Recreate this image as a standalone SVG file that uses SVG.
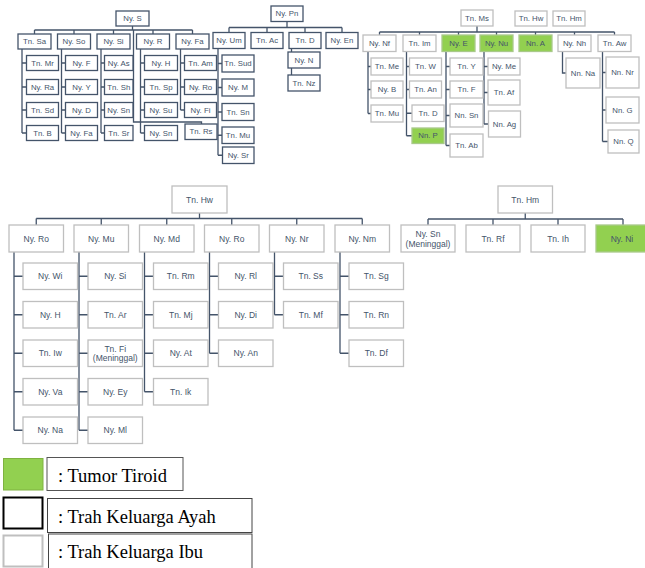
<svg xmlns="http://www.w3.org/2000/svg" width="645" height="568" viewBox="0 0 645 568">
<style>
.d{fill:#fff;stroke:#44546A;stroke-width:1.3}
.l{fill:#fff;stroke:#BFBFBF;stroke-width:1.3}
.gl{fill:#92D050;stroke:#A9C98A;stroke-width:1.3}
text{font-family:"Liberation Sans",Arial,sans-serif;fill:#44546A;text-anchor:middle;dominant-baseline:central}
.s{font-size:7.8px}
.b{font-size:8.5px}
.c{fill:none;stroke:#44546A;stroke-width:1.3}
.lg{font-family:"Liberation Serif","Times New Roman",serif;font-size:18.5px;fill:#000;text-anchor:start;dominant-baseline:auto}
</style>
<g id="connectors" class="c">
<path d="M132.5 26V30M34.5 30H192.5M34.5 30V34M74 30V34M113.5 30V34M153 30V34M192.5 30V34"/>
<path d="M133.5 30V122H201.5V124"/>
<path d="M22 49V133M22 63H26.5M22 87H26.5M22 110H26.5M22 133H26.5"/>
<path d="M61.5 49V133M61.5 63H65.5M61.5 87H65.5M61.5 110H65.5M61.5 133H65.5"/>
<path d="M101 49V133M101 63H104.5M101 87H104.5M101 110H104.5M101 133H104.5"/>
<path d="M140.5 49V133M140.5 63H144.5M140.5 87H144.5M140.5 110H144.5M140.5 133H144.5"/>
<path d="M180.5 49V110M180.5 63H184.5M180.5 87H184.5M180.5 110H184.5"/>
<path d="M287 21.5V27.5M229 27.5H342M229 27.5V32.5M267 27.5V32.5M305 27.5V32.5M342 27.5V32.5"/>
<path d="M218 48.5V155.25M218 63.5H222M218 87.5H222M218 112H222M218 135.25H222M218 155.25H222"/>
<path d="M291.5 48.5V75"/>
<path d="M477 26V32M379.5 32H614.5M379.5 32V35M419.5 32V35M458.5 32V35M496.5 32V35M535.5 32V35M574.5 32V35M614.5 32V35"/>
<path d="M368 51.5V113.5M368 66.5H371M368 89.5H371M368 113.5H371"/>
<path d="M406.5 51.5V135.75M406.5 66.5H409.5M406.5 89.5H409.5M406.5 113.25H412M406.5 135.75H412"/>
<path d="M446 51.5V145.5M446 66.5H450M446 89.5H450M446 115.5H450M446 145.5H450"/>
<path d="M484 51.5V124M484 66.5H488M484 92.5H488M484 124H488"/>
<path d="M562.5 51.5V73H566"/>
<path d="M602.5 51.5V141.5M602.5 72.5H606M602.5 110H606M602.5 141.5H608"/>
<path d="M199.5 213V218.5M36.25 218.5H362.25M36.25 218.5V225M101.25 218.5V225M166.75 218.5V225M231.75 218.5V225M296.75 218.5V225M362.25 218.5V225"/>
<path d="M14 252V430.25M14 276.25H23M14 314.75H23M14 353.25H23M14 391.75H23M14 430.25H23"/>
<path d="M79 252V430.25M79 276.25H88M79 314.75H88M79 353.25H88M79 391.75H88M79 430.25H88"/>
<path d="M144.5 252V391.75M144.5 276.25H153.5M144.5 314.75H153.5M144.5 353.25H153.5M144.5 391.75H153.5"/>
<path d="M209.5 252V353.25M209.5 276.25H218.5M209.5 314.75H218.5M209.5 353.25H218.5"/>
<path d="M274.5 252V314.75M274.5 276.25H283.5M274.5 314.75H283.5"/>
<path d="M340 252V353.25M340 276.25H349M340 314.75H349M340 353.25H349"/>
<path d="M525.25 213V219M428 219H623M428 219V225M493 219V225M558 219V225M623 219V225"/>
</g>

<g id="nyS"><rect class="d" x="116" y="11" width="33" height="15"/><text class="s" x="132.5" y="18.5">Ny. S</text></g>
<g id="tnSa"><rect class="d" x="18" y="34" width="33" height="15"/><text class="s" x="34.5" y="41.5">Tn. Sa</text></g>
<g id="nySo"><rect class="d" x="57.5" y="34" width="33" height="15"/><text class="s" x="74" y="41.5">Ny. So</text></g>
<g id="nySi"><rect class="d" x="97" y="34" width="33" height="15"/><text class="s" x="113.5" y="41.5">Ny. Si</text></g>
<g id="nyR"><rect class="d" x="136.5" y="34" width="33" height="15"/><text class="s" x="153" y="41.5">Ny. R</text></g>
<g id="nyFa"><rect class="d" x="176" y="34" width="33" height="15"/><text class="s" x="192.5" y="41.5">Ny. Fa</text></g>

<g id="tnMr"><rect class="d" x="26.5" y="55.5" width="32" height="15"/><text class="s" x="42.5" y="63">Tn. Mr</text></g>
<g id="nyRa"><rect class="d" x="26.5" y="79.5" width="32" height="15"/><text class="s" x="42.5" y="87">Ny. Ra</text></g>
<g id="tnSd"><rect class="d" x="26.5" y="102.5" width="32" height="15"/><text class="s" x="42.5" y="110">Tn. Sd</text></g>
<g id="tnB"><rect class="d" x="26.5" y="125.5" width="32" height="15"/><text class="s" x="42.5" y="133">Tn. B</text></g>

<g id="nyF"><rect class="d" x="65.5" y="55.5" width="32" height="15"/><text class="s" x="81.5" y="63">Ny. F</text></g>
<g id="nyY"><rect class="d" x="65.5" y="79.5" width="32" height="15"/><text class="s" x="81.5" y="87">Ny. Y</text></g>
<g id="nyD"><rect class="d" x="65.5" y="102.5" width="32" height="15"/><text class="s" x="81.5" y="110">Ny. D</text></g>
<g id="nyFa2"><rect class="d" x="65.5" y="125.5" width="32" height="15"/><text class="s" x="81.5" y="133">Ny. Fa</text></g>

<g id="nyAs"><rect class="d" x="104.5" y="55.5" width="28.5" height="15"/><text class="s" x="118.75" y="63">Ny. As</text></g>
<g id="tnSh"><rect class="d" x="104.5" y="79.5" width="28.5" height="15"/><text class="s" x="118.75" y="87">Tn. Sh</text></g>
<g id="nySn1"><rect class="d" x="104.5" y="102.5" width="28.5" height="15"/><text class="s" x="118.75" y="110">Ny. Sn</text></g>
<g id="tnSr"><rect class="d" x="104.5" y="125.5" width="28.5" height="15"/><text class="s" x="118.75" y="133">Tn. Sr</text></g>

<g id="nyH"><rect class="d" x="144.5" y="55.5" width="33" height="15"/><text class="s" x="161" y="63">Ny. H</text></g>
<g id="tnSp"><rect class="d" x="144.5" y="79.5" width="33" height="15"/><text class="s" x="161" y="87">Tn. Sp</text></g>
<g id="nySu"><rect class="d" x="144.5" y="102.5" width="33" height="15"/><text class="s" x="161" y="110">Ny. Su</text></g>
<g id="nySn2"><rect class="d" x="144.5" y="125.5" width="33" height="15"/><text class="s" x="161" y="133">Ny. Sn</text></g>

<g id="tnAm"><rect class="d" x="184.5" y="55.5" width="32" height="15"/><text class="s" x="200.5" y="63">Tn. Am</text></g>
<g id="nyRo1"><rect class="d" x="184.5" y="79.5" width="32" height="15"/><text class="s" x="200.5" y="87">Ny. Ro</text></g>
<g id="nyFi"><rect class="d" x="184.5" y="102.5" width="32" height="15"/><text class="s" x="200.5" y="110">Ny. Fi</text></g>
<g id="tnRs"><rect class="d" x="185" y="124" width="32" height="15.5"/><text class="s" x="201" y="131.75">Tn. Rs</text></g>

<g id="nyPn"><rect class="d" x="271" y="6" width="32" height="15.5"/><text class="s" x="287" y="13.75">Ny. Pn</text></g>
<g id="nyUm"><rect class="d" x="213" y="32.5" width="32" height="16"/><text class="s" x="229" y="40.5">Ny. Um</text></g>
<g id="tnAc"><rect class="d" x="251" y="32.5" width="32" height="16"/><text class="s" x="267" y="40.5">Tn. Ac</text></g>
<g id="tnD1"><rect class="d" x="289" y="32.5" width="32" height="16"/><text class="s" x="305" y="40.5">Tn. D</text></g>
<g id="nyEn"><rect class="d" x="326" y="32.5" width="32" height="16"/><text class="s" x="342" y="40.5">Ny. En</text></g>
<g id="tnSud"><rect class="d" x="222" y="55" width="32" height="17"/><text class="s" x="238" y="63.5">Tn. Sud</text></g>
<g id="nyM"><rect class="d" x="222" y="79" width="32" height="17"/><text class="s" x="238" y="87.5">Ny. M</text></g>
<g id="tnSn1"><rect class="d" x="222" y="103.5" width="32" height="17"/><text class="s" x="238" y="112">Tn. Sn</text></g>
<g id="tnMu1"><rect class="d" x="222" y="127" width="32" height="16.5"/><text class="s" x="238" y="135.25">Tn. Mu</text></g>
<g id="nySr"><rect class="d" x="222.5" y="147" width="31.5" height="16.5"/><text class="s" x="238.25" y="155.25">Ny. Sr</text></g>
<g id="nyN"><rect class="d" x="288" y="52" width="32" height="16"/><text class="s" x="304" y="60">Ny. N</text></g>
<g id="tnNz"><rect class="d" x="288" y="75" width="32" height="16"/><text class="s" x="304" y="83">Tn. Nz</text></g>

<g id="tnMs"><rect class="l" x="461" y="10" width="32" height="16"/><text class="s" x="477" y="18">Tn. Ms</text></g>
<g id="tnHwTop"><rect class="l" x="515" y="11" width="32" height="15"/><text class="s" x="531" y="18.5">Tn. Hw</text></g>
<g id="tnHmTop"><rect class="l" x="553" y="11" width="32" height="15"/><text class="s" x="569" y="18.5">Tn. Hm</text></g>
<g id="nyNf"><rect class="l" x="363" y="35" width="33" height="16.5"/><text class="s" x="379.5" y="43.25">Ny. Nf</text></g>
<g id="tnIm"><rect class="l" x="403" y="35" width="33" height="16.5"/><text class="s" x="419.5" y="43.25">Tn. Im</text></g>
<g id="nyE"><rect class="gl" x="442" y="35" width="33" height="16.5"/><text class="s" x="458.5" y="43.25">Ny. E</text></g>
<g id="nyNu"><rect class="gl" x="480" y="35" width="33" height="16.5"/><text class="s" x="496.5" y="43.25">Ny. Nu</text></g>
<g id="nnA"><rect class="gl" x="519" y="35" width="33" height="16.5"/><text class="s" x="535.5" y="43.25">Nn. A</text></g>
<g id="nyNh"><rect class="l" x="558" y="35" width="33" height="16.5"/><text class="s" x="574.5" y="43.25">Ny. Nh</text></g>
<g id="tnAw"><rect class="l" x="598" y="35" width="33" height="16.5"/><text class="s" x="614.5" y="43.25">Tn. Aw</text></g>

<g id="tnMe"><rect class="l" x="371" y="58" width="32" height="17"/><text class="s" x="387" y="66.5">Tn. Me</text></g>
<g id="nyB"><rect class="l" x="371" y="81" width="32" height="17"/><text class="s" x="387" y="89.5">Ny. B</text></g>
<g id="tnMu2"><rect class="l" x="371" y="105" width="32" height="17"/><text class="s" x="387" y="113.5">Tn. Mu</text></g>

<g id="tnW"><rect class="l" x="409.5" y="58" width="32" height="17"/><text class="s" x="425.5" y="66.5">Tn. W</text></g>
<g id="tnAn"><rect class="l" x="409.5" y="81" width="32" height="17"/><text class="s" x="425.5" y="89.5">Tn. An</text></g>
<g id="tnD2"><rect class="l" x="412" y="105" width="32" height="16.5"/><text class="s" x="428" y="113.25">Tn. D</text></g>
<g id="nnP"><rect class="gl" x="412" y="128" width="32" height="15.5"/><text class="s" x="428" y="135.75">Nn. P</text></g>

<g id="tnY"><rect class="l" x="450" y="58" width="33" height="17"/><text class="s" x="466.5" y="66.5">Tn. Y</text></g>
<g id="tnF"><rect class="l" x="450" y="81" width="33" height="17"/><text class="s" x="466.5" y="89.5">Tn. F</text></g>
<g id="nnSn"><rect class="l" x="450" y="104" width="33" height="23"/><text class="s" x="466.5" y="115.5">Nn. Sn</text></g>
<g id="tnAb"><rect class="l" x="450" y="134" width="33" height="23"/><text class="s" x="466.5" y="145.5">Tn. Ab</text></g>

<g id="nyMe"><rect class="l" x="488" y="58" width="32" height="17"/><text class="s" x="504" y="66.5">Ny. Me</text></g>
<g id="tnAf"><rect class="l" x="488" y="80" width="32" height="25"/><text class="s" x="504" y="92.5">Tn. Af</text></g>
<g id="nnAg"><rect class="l" x="488.5" y="111" width="32" height="26"/><text class="s" x="504.5" y="124">Nn. Ag</text></g>

<g id="nnNa"><rect class="l" x="566" y="58" width="34" height="30"/><text class="s" x="583" y="73">Nn. Na</text></g>
<g id="nnNr"><rect class="l" x="606" y="57" width="33" height="31"/><text class="s" x="622.5" y="72.5">Nn. Nr</text></g>
<g id="nnG"><rect class="l" x="606" y="97" width="33" height="26"/><text class="s" x="622.5" y="110">Nn. G</text></g>
<g id="nnQ"><rect class="l" x="608" y="130" width="31" height="23"/><text class="s" x="623.5" y="141.5">Nn. Q</text></g>

<g id="tnHw"><rect class="l" x="172" y="186" width="55" height="27"/><text class="b" x="199.5" y="199.5">Tn. Hw</text></g>
<g id="nyRoA"><rect class="l" x="9" y="225" width="54.5" height="27"/><text class="b" x="36.25" y="238.5">Ny. Ro</text></g>
<g id="nyMu"><rect class="l" x="74" y="225" width="54.5" height="27"/><text class="b" x="101.25" y="238.5">Ny. Mu</text></g>
<g id="nyMd"><rect class="l" x="139.5" y="225" width="54.5" height="27"/><text class="b" x="166.75" y="238.5">Ny. Md</text></g>
<g id="nyRoB"><rect class="l" x="204.5" y="225" width="54.5" height="27"/><text class="b" x="231.75" y="238.5">Ny. Ro</text></g>
<g id="nyNr"><rect class="l" x="269.5" y="225" width="54.5" height="27"/><text class="b" x="296.75" y="238.5">Ny. Nr</text></g>
<g id="nyNm"><rect class="l" x="335" y="225" width="54.5" height="27"/><text class="b" x="362.25" y="238.5">Ny. Nm</text></g>

<g id="nyWi"><rect class="l" x="23" y="263" width="54.5" height="26.5"/><text class="b" x="50.25" y="276.25">Ny. Wi</text></g>
<g id="nyH2"><rect class="l" x="23" y="301.5" width="54.5" height="26.5"/><text class="b" x="50.25" y="314.75">Ny. H</text></g>
<g id="tnIw"><rect class="l" x="23" y="340" width="54.5" height="26.5"/><text class="b" x="50.25" y="353.25">Tn. Iw</text></g>
<g id="nyVa"><rect class="l" x="23" y="378.5" width="54.5" height="26.5"/><text class="b" x="50.25" y="391.75">Ny. Va</text></g>
<g id="nyNa"><rect class="l" x="23" y="417" width="54.5" height="26.5"/><text class="b" x="50.25" y="430.25">Ny. Na</text></g>

<g id="nySi2"><rect class="l" x="88" y="263" width="54.5" height="26.5"/><text class="b" x="115.25" y="276.25">Ny. Si</text></g>
<g id="tnAr"><rect class="l" x="88" y="301.5" width="54.5" height="26.5"/><text class="b" x="115.25" y="314.75">Tn. Ar</text></g>
<g id="tnFi"><rect class="l" x="88" y="340" width="54.5" height="26.5"/><text class="b" x="115.25" y="348.5">Tn. Fi</text><text class="b" x="115.25" y="358">(Meninggal)</text></g>
<g id="nyEy"><rect class="l" x="88" y="378.5" width="54.5" height="26.5"/><text class="b" x="115.25" y="391.75">Ny. Ey</text></g>
<g id="nyMl"><rect class="l" x="88" y="417" width="54.5" height="26.5"/><text class="b" x="115.25" y="430.25">Ny. Ml</text></g>

<g id="tnRm"><rect class="l" x="153.5" y="263" width="54.5" height="26.5"/><text class="b" x="180.75" y="276.25">Tn. Rm</text></g>
<g id="tnMj"><rect class="l" x="153.5" y="301.5" width="54.5" height="26.5"/><text class="b" x="180.75" y="314.75">Tn. Mj</text></g>
<g id="nyAt"><rect class="l" x="153.5" y="340" width="54.5" height="26.5"/><text class="b" x="180.75" y="353.25">Ny. At</text></g>
<g id="tnIk"><rect class="l" x="153.5" y="378.5" width="54.5" height="26.5"/><text class="b" x="180.75" y="391.75">Tn. Ik</text></g>

<g id="nyRl"><rect class="l" x="218.5" y="263" width="54.5" height="26.5"/><text class="b" x="245.75" y="276.25">Ny. Rl</text></g>
<g id="nyDi"><rect class="l" x="218.5" y="301.5" width="54.5" height="26.5"/><text class="b" x="245.75" y="314.75">Ny. Di</text></g>
<g id="nyAn"><rect class="l" x="218.5" y="340" width="54.5" height="26.5"/><text class="b" x="245.75" y="353.25">Ny. An</text></g>

<g id="tnSs"><rect class="l" x="283.5" y="263" width="54.5" height="26.5"/><text class="b" x="310.75" y="276.25">Tn. Ss</text></g>
<g id="tnMf"><rect class="l" x="283.5" y="301.5" width="54.5" height="26.5"/><text class="b" x="310.75" y="314.75">Tn. Mf</text></g>

<g id="tnSg"><rect class="l" x="349" y="263" width="54.5" height="26.5"/><text class="b" x="376.25" y="276.25">Tn. Sg</text></g>
<g id="tnRn"><rect class="l" x="349" y="301.5" width="54.5" height="26.5"/><text class="b" x="376.25" y="314.75">Tn. Rn</text></g>
<g id="tnDf"><rect class="l" x="349" y="340" width="54.5" height="26.5"/><text class="b" x="376.25" y="353.25">Tn. Df</text></g>

<g id="tnHm"><rect class="l" x="498" y="186" width="54.5" height="27"/><text class="b" x="525.25" y="199.5">Tn. Hm</text></g>
<g id="nySn3"><rect class="l" x="401" y="225" width="54" height="27"/><text class="b" x="428" y="234">Ny. Sn</text><text class="b" x="428" y="243.5">(Meninggal)</text></g>
<g id="tnRf"><rect class="l" x="466" y="225" width="54" height="27"/><text class="b" x="493" y="238.5">Tn. Rf</text></g>
<g id="tnIh"><rect class="l" x="531" y="225" width="54" height="27"/><text class="b" x="558" y="238.5">Tn. Ih</text></g>
<g id="nyNi"><rect class="gl" x="596" y="225" width="54" height="27"/><text class="b" x="622" y="238.5">Ny. Ni</text></g>

<g id="legend">
<rect x="3.5" y="458.5" width="39.5" height="31.5" fill="#92D050" stroke="#7FB241" stroke-width="1"/>
<rect x="47" y="457.5" width="136" height="33" fill="#fff" stroke="#555" stroke-width="1"/>
<text class="lg" x="58" y="482">: Tumor Tiroid</text>
<rect x="3.5" y="497.5" width="39" height="31" fill="#fff" stroke="#000" stroke-width="2"/>
<rect x="47.5" y="498.5" width="204.5" height="34" fill="#fff" stroke="#444" stroke-width="1"/>
<text class="lg" x="58" y="523">: Trah Keluarga Ayah</text>
<rect x="3.5" y="535.5" width="39" height="31" fill="#fff" stroke="#BFBFBF" stroke-width="2"/>
<rect x="48.5" y="534" width="203.5" height="40" fill="#fff" stroke="#444" stroke-width="1"/>
<text class="lg" x="58" y="558">: Trah Keluarga Ibu</text>
</g>
</svg>
